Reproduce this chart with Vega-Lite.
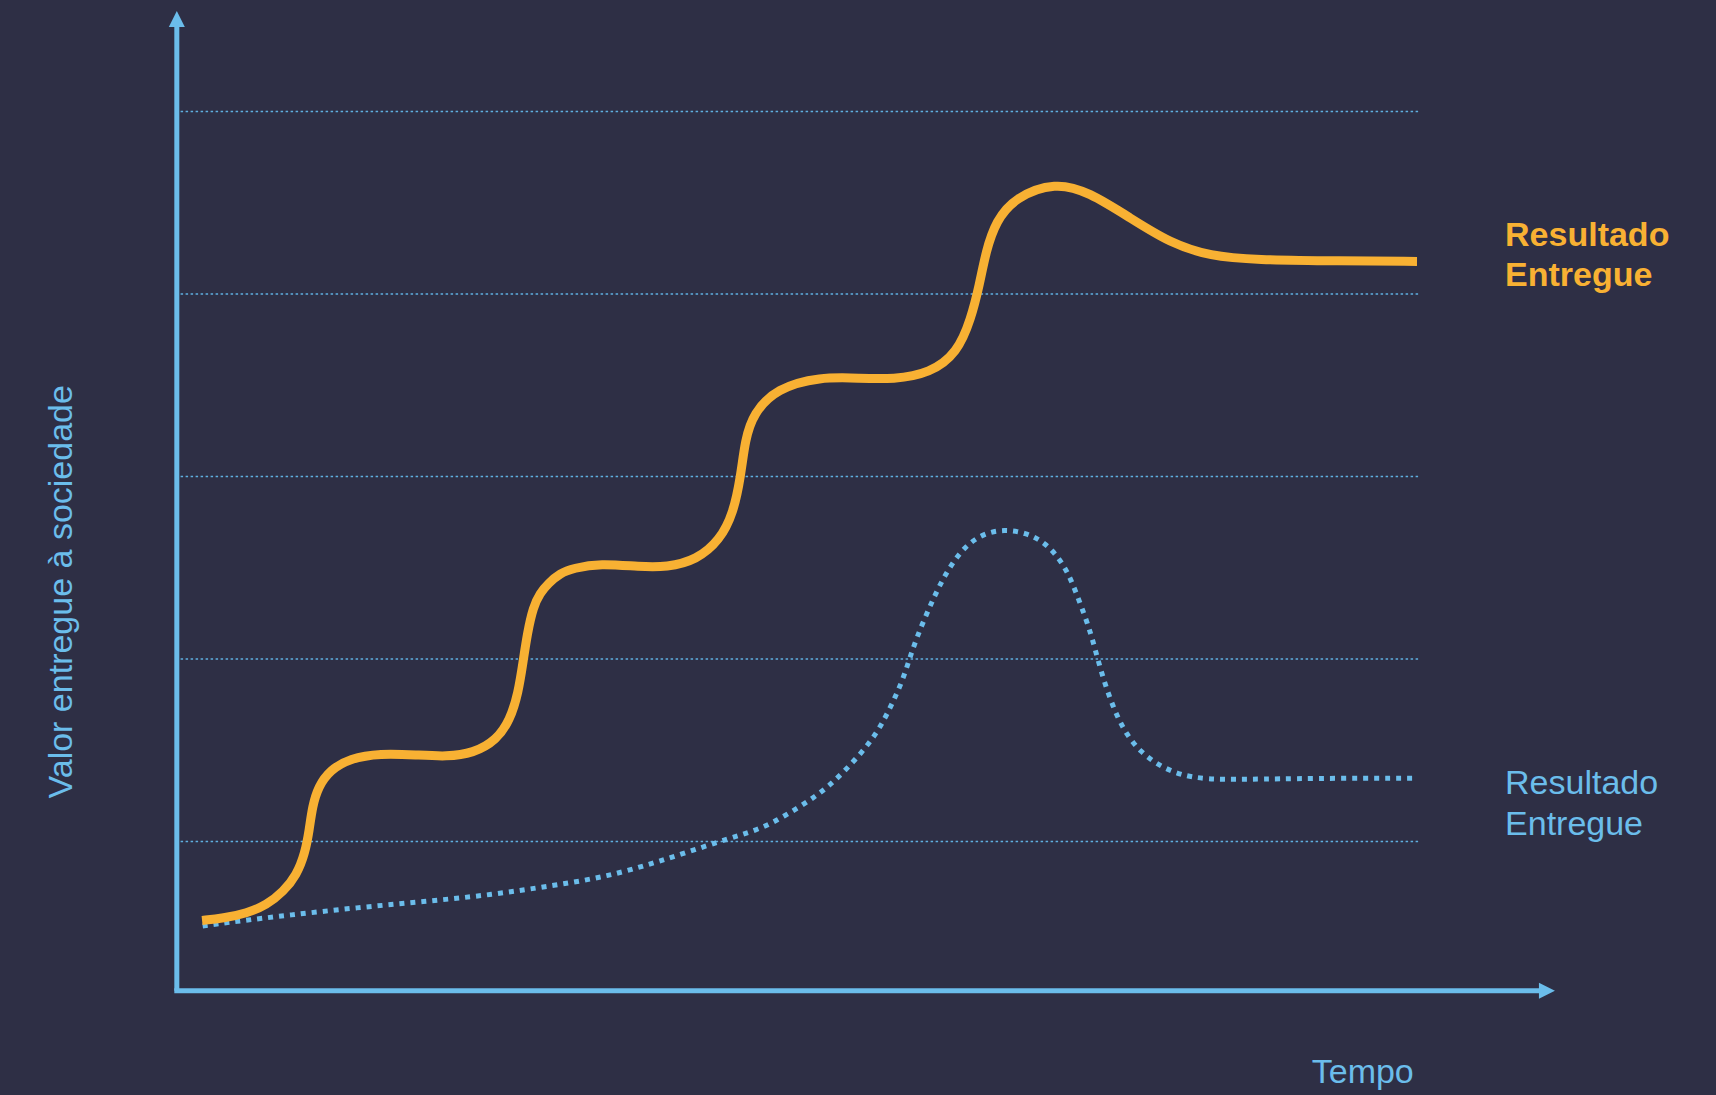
{
  "$schema": "https://vega.github.io/schema/vega-lite/v6.json",
  "width": 1716,
  "height": 1095,
  "autosize": {"type": "fit", "contains": "padding"},
  "padding": 0,
  "background": "#2E2F45",
  "config": {"view": {"stroke": null}},
  "datasets": {
    "orange": [
      {"x": 1.73, "y": 0.568}, {"x": 3.44, "y": 0.580}, {"x": 5.33, "y": 0.607}, {"x": 6.94, "y": 0.653},
      {"x": 8.28, "y": 0.725}, {"x": 9.36, "y": 0.817}, {"x": 10.03, "y": 0.936}, {"x": 10.38, "y": 1.064},
      {"x": 10.62, "y": 1.191}, {"x": 11.10, "y": 1.301}, {"x": 12.05, "y": 1.392}, {"x": 13.66, "y": 1.456},
      {"x": 16.08, "y": 1.484}, {"x": 19.04, "y": 1.475}, {"x": 21.46, "y": 1.465}, {"x": 23.60, "y": 1.484},
      {"x": 25.49, "y": 1.557}, {"x": 26.56, "y": 1.666}, {"x": 27.23, "y": 1.813}, {"x": 27.64, "y": 1.995},
      {"x": 27.96, "y": 2.141}, {"x": 28.44, "y": 2.287}, {"x": 28.98, "y": 2.361}, {"x": 29.65, "y": 2.415},
      {"x": 30.60, "y": 2.470}, {"x": 31.67, "y": 2.498}, {"x": 33.82, "y": 2.525}, {"x": 37.05, "y": 2.506},
      {"x": 39.20, "y": 2.503}, {"x": 41.62, "y": 2.543}, {"x": 43.50, "y": 2.653}, {"x": 44.57, "y": 2.799},
      {"x": 45.17, "y": 2.999}, {"x": 45.52, "y": 3.201}, {"x": 46.19, "y": 3.347}, {"x": 48.07, "y": 3.484},
      {"x": 51.56, "y": 3.547}, {"x": 54.79, "y": 3.539}, {"x": 57.48, "y": 3.533}, {"x": 60.44, "y": 3.566},
      {"x": 62.65, "y": 3.679}, {"x": 63.74, "y": 3.864}, {"x": 64.42, "y": 4.050}, {"x": 64.95, "y": 4.236},
      {"x": 65.76, "y": 4.401}, {"x": 67.29, "y": 4.530}, {"x": 70.55, "y": 4.614}, {"x": 73.26, "y": 4.559},
      {"x": 76.54, "y": 4.419}, {"x": 79.79, "y": 4.280}, {"x": 83.08, "y": 4.207}, {"x": 86.62, "y": 4.188},
      {"x": 93.42, "y": 4.182}, {"x": 99.71, "y": 4.179}
    ],
    "blue": [
      {"x": 1.78, "y": 0.538}, {"x": 4.25, "y": 0.561}, {"x": 8.82, "y": 0.598}, {"x": 14.20, "y": 0.638},
      {"x": 19.57, "y": 0.671}, {"x": 24.95, "y": 0.707}, {"x": 30.33, "y": 0.762}, {"x": 34.36, "y": 0.808},
      {"x": 38.39, "y": 0.886}, {"x": 43.69, "y": 1.006}, {"x": 46.53, "y": 1.064}, {"x": 48.13, "y": 1.118},
      {"x": 49.73, "y": 1.182}, {"x": 51.15, "y": 1.246}, {"x": 52.38, "y": 1.310}, {"x": 53.62, "y": 1.392},
      {"x": 54.87, "y": 1.484}, {"x": 55.93, "y": 1.575}, {"x": 56.81, "y": 1.676}, {"x": 57.52, "y": 1.776},
      {"x": 58.23, "y": 1.885}, {"x": 58.77, "y": 1.999}, {"x": 59.30, "y": 2.105}, {"x": 60.01, "y": 2.224},
      {"x": 60.72, "y": 2.333}, {"x": 61.43, "y": 2.433}, {"x": 62.31, "y": 2.534}, {"x": 63.38, "y": 2.625},
      {"x": 64.79, "y": 2.689}, {"x": 66.40, "y": 2.711}, {"x": 68.16, "y": 2.693}, {"x": 69.58, "y": 2.643},
      {"x": 70.65, "y": 2.570}, {"x": 71.53, "y": 2.479}, {"x": 72.24, "y": 2.361}, {"x": 72.95, "y": 2.232},
      {"x": 73.48, "y": 2.123}, {"x": 73.91, "y": 2.013}, {"x": 74.37, "y": 1.904}, {"x": 74.90, "y": 1.794},
      {"x": 75.54, "y": 1.684}, {"x": 76.32, "y": 1.584}, {"x": 77.39, "y": 1.493}, {"x": 78.81, "y": 1.420},
      {"x": 80.58, "y": 1.365}, {"x": 82.70, "y": 1.341}, {"x": 85.90, "y": 1.341}, {"x": 91.22, "y": 1.347},
      {"x": 99.48, "y": 1.347}
    ],
    "grid": [
      {"x": 0, "x2": 100, "y": 1}, {"x": 0, "x2": 100, "y": 2}, {"x": 0, "x2": 100, "y": 3},
      {"x": 0, "x2": 100, "y": 4}, {"x": 0, "x2": 100, "y": 5}
    ],
    "axes": [
      {"x": -0.306, "x2": -0.306, "y": 0.1825, "y2": 5.48},
      {"x": -0.508, "x2": 110.19, "y": 0.1825, "y2": 0.1825}
    ],
    "arrowUp": [{"x": -0.306, "y": 5.507}],
    "arrowRight": [{"x": 110.19, "y": 0.1825}],
    "labelsOrange": [
      {"x": 106.81, "y": 4.264, "text": "Resultado"},
      {"x": 106.81, "y": 4.044, "text": "Entregue"}
    ],
    "labelsBlue": [
      {"x": 106.81, "y": 1.259, "text": "Resultado"},
      {"x": 106.81, "y": 1.036, "text": "Entregue"}
    ],
    "xtitle": [{"x": 91.22, "y": -0.324, "text": "Tempo"}],
    "ytitle": [{"x": -8.782, "y": 2.369, "text": "Valor entregue à sociedade"}]
  },
  "encoding": {
    "x": {"field": "x", "type": "quantitative", "axis": null, "scale": {"domain": [-14.565, 123.823], "nice": false, "zero": false}},
    "y": {"field": "y", "type": "quantitative", "axis": null, "scale": {"domain": [-0.3885, 5.6115], "nice": false, "zero": false}}
  },
  "layer": [
    {
      "data": {"name": "grid"},
      "mark": {"type": "rule", "color": "#5FAEDF", "strokeWidth": 1.5, "strokeDash": [2.5, 2.5]},
      "encoding": {"x2": {"field": "x2"}}
    },
    {
      "data": {"name": "axes"},
      "mark": {"type": "rule", "color": "#6BBDEB", "strokeWidth": 5},
      "encoding": {"x2": {"field": "x2"}, "y2": {"field": "y2"}}
    },
    {
      "data": {"name": "arrowUp"},
      "mark": {"type": "point", "shape": "M0,-1L1,1L-1,1Z", "size": 256, "filled": true, "opacity": 1, "color": "#6BBDEB", "strokeWidth": 0}
    },
    {
      "data": {"name": "arrowRight"},
      "mark": {"type": "point", "shape": "M1,0L-1,-1L-1,1Z", "size": 256, "filled": true, "opacity": 1, "color": "#6BBDEB", "strokeWidth": 0}
    },
    {
      "data": {"name": "blue"},
      "mark": {"type": "line", "color": "#6BBDEB", "strokeWidth": 5, "strokeDash": [5, 6], "strokeCap": "butt", "interpolate": "basis"}
    },
    {
      "data": {"name": "orange"},
      "mark": {"type": "line", "color": "#F8B133", "strokeWidth": 9, "strokeCap": "butt", "interpolate": "basis"}
    },
    {
      "data": {"name": "labelsOrange"},
      "mark": {"type": "text", "align": "left", "baseline": "alphabetic", "font": "Liberation Sans", "fontSize": 34, "fontWeight": "bold", "color": "#F8B133"},
      "encoding": {"text": {"field": "text"}}
    },
    {
      "data": {"name": "labelsBlue"},
      "mark": {"type": "text", "align": "left", "baseline": "alphabetic", "font": "Liberation Sans", "fontSize": 34, "color": "#6BBDEB"},
      "encoding": {"text": {"field": "text"}}
    },
    {
      "data": {"name": "xtitle"},
      "mark": {"type": "text", "align": "left", "baseline": "alphabetic", "font": "Liberation Sans", "fontSize": 34, "color": "#6BBDEB"},
      "encoding": {"text": {"field": "text"}}
    },
    {
      "data": {"name": "ytitle"},
      "mark": {"type": "text", "align": "center", "baseline": "alphabetic", "angle": 270, "font": "Liberation Sans", "fontSize": 34, "color": "#6BBDEB"},
      "encoding": {"text": {"field": "text"}}
    }
  ]
}
